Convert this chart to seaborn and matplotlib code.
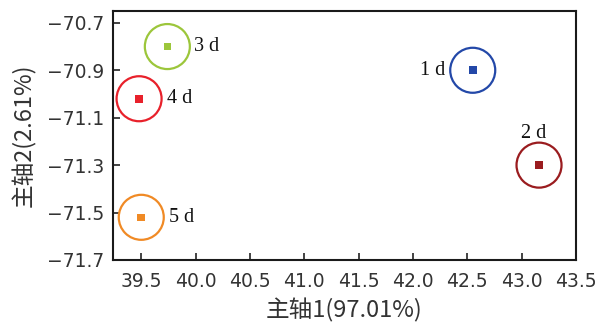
import matplotlib
matplotlib.use("Agg")
import matplotlib.pyplot as plt
import seaborn as sns
import pandas as pd

# PCA scores per storage day
days = ["1 d", "2 d", "3 d", "4 d", "5 d"]
pc1 = [42.55, 43.16, 39.74, 39.48, 39.50]
pc2 = [-70.90, -71.30, -70.80, -71.02, -71.52]
colors = ["#2348a8", "#9a1c1f", "#9cc63b", "#e8212b", "#f08a25"]

x_ticks = [39.5, 40.0, 40.5, 41.0, 41.5, 42.0, 42.5, 43.0, 43.5]
y_ticks = [-70.7, -70.9, -71.1, -71.3, -71.5, -71.7]

sns.set_theme(style="white")
plt.rcParams["font.family"] = ["DejaVu Sans", "Noto Sans CJK SC"]
plt.rcParams["axes.unicode_minus"] = True

df = pd.DataFrame({"day": days, "pc1": pc1, "pc2": pc2})
palette = dict(zip(days, colors))

fig = plt.figure(figsize=(5.96, 3.27), dpi=100)
ax = fig.add_axes([0.1896, 0.2049, 0.9664 - 0.1896, 0.9664 - 0.2049])

# enclosing rings
sns.scatterplot(data=df, x="pc1", y="pc2", hue="day", palette=palette,
                marker="o", s=1050, linewidth=1.6, legend=False, ax=ax)
for coll in ax.collections:
    coll.set_facecolor("none")
    coll.set_edgecolor(colors)
# center squares
sns.scatterplot(data=df, x="pc1", y="pc2", hue="day", palette=palette,
                marker="s", s=30, linewidth=0, legend=False, ax=ax)

# day labels
offsets = {"1 d": (-20, 0, "right", "center"),
           "2 d": (-4, 16, "center", "bottom"),
           "3 d": (19, 0, "left", "center"),
           "4 d": (20, 0, "left", "center"),
           "5 d": (20, 0, "left", "center")}
for d, x, y in zip(days, pc1, pc2):
    dx, dy, ha, va = offsets[d]
    ax.annotate(d, (x, y), xytext=(dx, dy), textcoords="offset points",
                ha=ha, va=va, fontsize=14.5, family="Liberation Serif",
                color="#111111")

ax.set_xlim(39.24, 43.5)
ax.set_ylim(-71.7, -70.65)
ax.set_xticks(x_ticks)
ax.set_yticks(y_ticks)
ax.set_xticklabels([f"{v:.1f}" for v in x_ticks])
ax.set_yticklabels([f"\u2212{abs(v):.1f}" for v in y_ticks])
ax.tick_params(axis="both", direction="in", length=5, width=1.2,
               labelsize=13.5, colors="#222222", labelcolor="#333333",
               bottom=True, left=True)
ax.tick_params(axis="x", pad=9)
ax.tick_params(axis="y", pad=6)

for s in ax.spines.values():
    s.set_color("#1a1a1a")
    s.set_linewidth(1.5)

ax.set_xlabel("主轴1(97.01%)", fontsize=17, color="#333333",
              family=["Noto Sans CJK SC", "DejaVu Sans"], labelpad=5)
ax.set_ylabel("主轴2(2.61%)", fontsize=17, color="#333333",
              family=["Noto Sans CJK SC", "DejaVu Sans"], labelpad=8)

fig.savefig("out.png", dpi=100)
